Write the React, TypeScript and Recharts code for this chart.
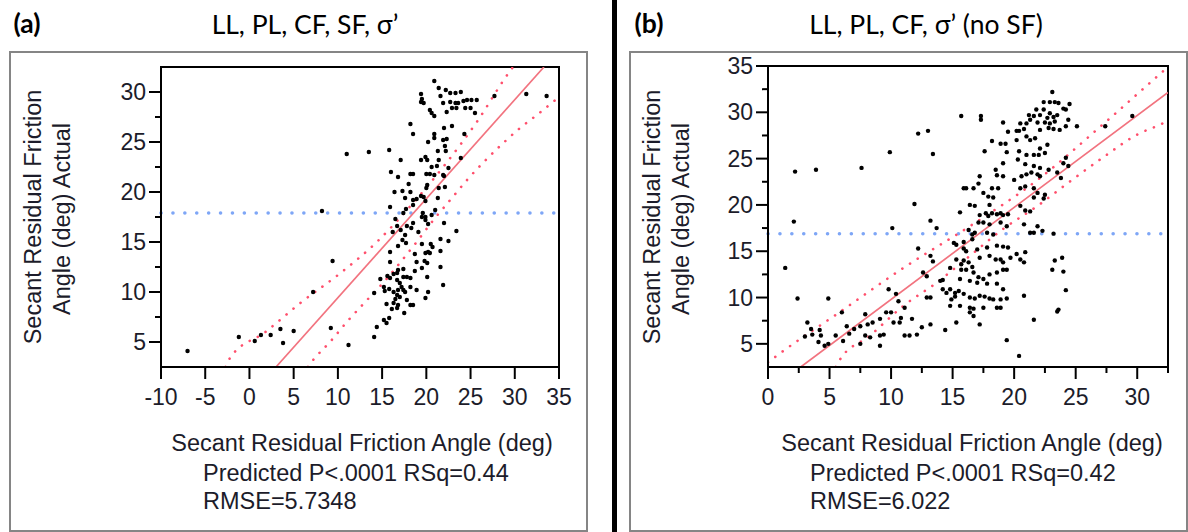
import { ComposedChart, XAxis, YAxis, Scatter, Line, ReferenceLine, ReferenceArea } from 'recharts';

type Pt = [number, number];

// panel (a): LL, PL, CF, SF, σ'
const xTicksA = [-10, -5, 0, 5, 10, 15, 20, 25, 30, 35];
const yTicksA = [5, 7.5, 10, 12.5, 15, 17.5, 20, 22.5, 25, 27.5, 30];
const meanA = 17.9;
const fitA: Pt[] = [[3.0, 2.5], [33.3, 32.5]];
const upperA: Pt[] = [[-2.7, 2.5], [-2.2, 3.4], [1.8, 6.0], [5.9, 9.0], [10.3, 11.9], [14.4, 15.0], [18.5, 18.9], [21.9, 22.5], [25.7, 27.0], [29.3, 31.9], [29.8, 32.5]];
const lowerA: Pt[] = [[6.6, 2.5], [7.2, 3.2], [9.1, 5.0], [11.2, 7.2], [13.3, 9.2], [15.2, 11.0], [17.0, 12.9], [18.9, 15.0], [20.8, 17.2], [22.7, 19.2], [24.6, 21.2], [26.5, 23.0], [28.7, 24.9], [30.6, 26.4], [32.5, 27.7], [35, 29.5]];
const pointsA: Pt[] = [
  [20.9, 31.1], [21.4, 30.4], [22.2, 30.2], [22.7, 29.9], [23.3, 29.9], [23.9, 30.0], [21.6, 29.6], [19.4, 29.8], [19.5, 29.3], [19.4, 29.0],
  [19.7, 28.9], [21.9, 28.9], [22.7, 29.0], [23.3, 28.9], [23.6, 28.9], [24.2, 29.1], [24.6, 29.2], [25.1, 29.2], [25.7, 29.2], [22.9, 28.4],
  [23.4, 28.4], [24.4, 28.4], [25.0, 28.4], [25.5, 27.9], [22.3, 28.0], [20.4, 28.2], [20.6, 27.9], [20.9, 27.6], [27.7, 29.6], [31.3, 29.8], [33.6, 29.6],
  [18.2, 26.8], [18.5, 25.8], [22.9, 26.6], [22.0, 26.4], [20.9, 25.8], [20.9, 25.4], [20.2, 25.0], [21.9, 25.2], [22.3, 25.3], [22.1, 24.6],
  [21.3, 24.1], [22.2, 24.1], [24.3, 25.8], [23.9, 23.4], [22.5, 22.4], [22.0, 21.6], [22.1, 20.5],
  [11.0, 23.8], [13.5, 24.0], [15.8, 24.2], [17.1, 23.2], [19.4, 23.2], [19.9, 23.5], [20.1, 23.2], [21.4, 23.2], [20.6, 22.5], [21.2, 22.6],
  [16.0, 22.0], [16.8, 21.5], [18.2, 21.8], [18.5, 21.8], [20.0, 21.8], [20.4, 21.8], [20.9, 21.7], [21.9, 21.7],
  [20.1, 20.7], [18.0, 20.8], [17.3, 20.1], [18.2, 20.0], [16.4, 20.0], [20.0, 20.4], [21.4, 20.4], [19.4, 19.6], [19.7, 19.5], [17.6, 19.4],
  [18.5, 19.2], [18.9, 19.3], [18.5, 18.7], [15.9, 18.5], [17.7, 18.3], [19.9, 19.1], [21.3, 19.4], [21.0, 18.2], [20.6, 17.7], [19.6, 17.9],
  [19.5, 17.5], [19.9, 17.5], [19.9, 17.2], [20.2, 16.8], [8.2, 18.1], [16.5, 17.3], [17.4, 17.9], [16.7, 16.6], [17.8, 16.6], [18.5, 16.9],
  [18.3, 16.4], [17.1, 16.2], [16.2, 16.0], [17.6, 15.7], [19.1, 16.0], [22.0, 16.9], [23.4, 16.1],
  [17.3, 15.2], [17.7, 14.9], [16.8, 14.6], [15.9, 14.0], [19.5, 14.8], [20.5, 14.8], [20.7, 14.5], [20.2, 14.0], [20.4, 13.9], [19.9, 13.9],
  [21.6, 15.3], [22.5, 15.1], [21.6, 14.1], [18.7, 13.8], [18.9, 13.0], [19.8, 13.1], [20.1, 12.9], [15.9, 13.0], [17.4, 12.3], [16.8, 12.2],
  [16.7, 11.9], [18.7, 12.1], [19.5, 12.4], [21.6, 12.5], [16.3, 11.8], [15.6, 11.6], [15.9, 11.4], [14.8, 11.3], [15.2, 10.5], [15.3, 10.1],
  [15.8, 10.3], [16.7, 11.2], [17.0, 10.9], [17.8, 11.5], [17.4, 11.5], [18.2, 11.4], [17.2, 10.5], [17.4, 10.2], [17.6, 10.0], [16.8, 10.2],
  [16.3, 10.0], [16.7, 9.7], [17.0, 9.5], [16.5, 9.3], [16.3, 8.9], [16.8, 8.7], [17.8, 9.2], [18.2, 10.5], [18.9, 10.2], [20.1, 11.5],
  [20.2, 10.0], [19.9, 9.4], [21.9, 10.7], [14.1, 9.9], [15.5, 8.8], [16.7, 8.4], [16.1, 8.3], [18.2, 8.7], [18.5, 8.7], [17.5, 7.9],
  [15.8, 7.4], [15.2, 7.2], [15.5, 6.9], [14.4, 6.5], [14.1, 5.5], [9.2, 6.4], [7.2, 10.0], [9.4, 13.1], [11.2, 4.7], [5.0, 6.1],
  [3.5, 6.3], [2.4, 5.7], [1.3, 5.7], [0.6, 5.1], [-1.2, 5.5], [3.8, 4.9], [-7.0, 4.1],
];

// panel (b): LL, PL, CF, σ' (no SF)
const xTicksB = [0, 2.5, 5, 7.5, 10, 12.5, 15, 17.5, 20, 22.5, 25, 27.5, 30, 32.5];
const yTicksB = [5, 7.5, 10, 12.5, 15, 17.5, 20, 22.5, 25, 27.5, 30, 32.5, 35];
const meanB = 16.9;
const fitB: Pt[] = [[2.66, 2.5], [32.5, 32.15]];
const upperB: Pt[] = [[0, 3.0], [0.9, 3.9], [5.8, 8.4], [11.0, 13.2], [16.4, 17.7], [21.9, 22.7], [27.3, 28.8], [31.9, 34.2], [32.5, 34.9]];
const lowerB: Pt[] = [[5.5, 2.5], [5.8, 3.2], [8.3, 5.9], [11.0, 9.1], [13.7, 11.6], [16.4, 14.5], [19.1, 17.4], [21.9, 19.9], [24.6, 22.6], [27.3, 25.2], [30.0, 27.6], [31.9, 28.7], [32.5, 29.1]];
const pointsB: Pt[] = [
  [23.1, 32.2], [22.4, 31.1], [22.9, 31.1], [23.3, 31.1], [23.6, 31.0], [24.0, 30.4], [24.5, 30.9], [24.2, 30.3], [21.8, 30.3], [22.4, 30.3],
  [22.9, 29.9], [21.2, 29.7], [21.6, 29.6], [22.1, 29.7], [22.7, 29.4], [23.2, 29.5], [23.5, 29.7], [21.3, 29.2], [21.0, 28.8], [21.9, 28.9],
  [22.5, 28.9], [22.9, 28.8], [23.3, 29.0], [24.4, 29.2], [24.2, 28.5], [25.1, 28.5], [20.5, 28.8], [20.8, 28.2], [20.2, 28.0], [19.5, 27.9],
  [19.1, 28.9], [20.4, 28.0], [22.1, 28.1], [22.8, 28.3], [23.2, 28.2], [23.7, 28.1], [15.7, 29.6], [17.3, 29.6], [17.3, 29.2], [13.0, 28.0],
  [12.2, 27.7], [9.9, 25.7], [13.4, 25.5], [7.6, 24.0], [3.9, 23.8], [2.2, 23.6], [27.4, 28.5], [29.6, 29.6],
  [21.0, 27.4], [21.3, 27.0], [21.7, 27.2], [20.2, 27.0], [18.2, 26.9], [18.9, 26.6], [19.3, 26.6], [22.7, 26.5], [22.1, 26.1], [17.6, 25.8],
  [19.4, 25.7], [20.4, 25.8], [21.0, 25.4], [21.6, 25.4], [22.0, 25.4], [22.5, 25.6], [20.3, 24.9], [20.9, 24.4], [21.6, 24.2], [22.1, 24.0],
  [22.8, 23.8], [19.1, 24.5], [24.2, 25.1], [24.0, 24.5], [24.4, 24.2], [18.5, 23.8], [18.6, 23.2], [19.1, 23.1], [20.0, 22.7], [20.6, 23.1],
  [21.0, 23.3], [21.4, 23.5], [21.9, 23.3], [22.1, 23.1], [23.5, 23.5], [23.8, 22.9], [17.2, 23.1], [15.9, 21.8], [16.1, 21.8], [16.7, 21.8],
  [17.1, 22.3], [18.2, 21.8], [18.7, 21.8], [17.5, 21.3], [17.9, 20.9], [18.3, 20.8], [20.5, 21.8], [20.9, 22.0], [21.6, 21.8], [21.9, 21.3],
  [22.5, 21.1], [22.4, 20.7], [21.6, 20.8], [20.5, 19.9], [20.9, 19.4], [21.3, 19.3], [16.4, 20.0], [16.8, 19.9], [18.0, 20.0], [17.7, 19.1],
  [17.9, 18.8], [18.2, 19.1], [18.6, 19.0], [18.9, 19.1], [19.1, 18.9], [19.5, 19.0], [17.2, 18.9], [15.6, 19.2], [17.1, 18.1], [17.5, 18.1],
  [18.0, 17.9], [18.9, 18.1], [19.4, 17.7], [20.8, 17.9], [21.3, 17.0], [21.6, 17.0], [21.9, 17.7], [23.2, 16.9], [22.3, 17.2],
  [16.3, 17.3], [16.6, 16.8], [16.8, 17.0], [17.8, 17.0], [18.3, 16.8], [13.7, 17.5], [13.2, 18.3], [11.9, 20.1], [10.1, 17.5], [2.1, 18.2],
  [15.1, 15.9], [15.3, 15.7], [15.9, 16.0], [16.6, 16.3], [15.9, 15.3], [16.1, 15.0], [17.0, 15.2], [17.8, 15.4], [18.6, 15.6], [19.1, 15.5],
  [19.5, 15.4], [20.2, 14.7], [20.9, 14.9], [12.2, 15.3], [13.2, 14.5], [13.4, 13.9], [12.6, 12.7], [12.9, 12.3], [14.8, 13.2], [15.3, 14.1],
  [15.9, 14.0], [15.7, 13.6], [16.3, 13.8], [16.6, 13.3], [17.2, 14.3], [18.0, 14.5], [18.5, 14.1], [18.9, 14.1], [19.1, 13.8], [19.7, 14.3],
  [20.5, 14.1], [20.8, 13.8], [23.3, 14.0], [23.9, 14.3], [23.1, 13.0], [24.0, 12.8], [24.2, 10.8], [23.5, 8.5], [23.6, 8.7], [21.6, 7.6],
  [19.4, 5.4], [20.4, 3.7],
  [14.0, 11.8], [14.2, 11.9], [15.7, 13.0], [16.1, 13.0], [16.7, 12.7], [17.1, 12.2], [17.5, 12.0], [18.0, 12.5], [18.6, 12.7], [19.1, 13.0],
  [19.4, 13.0], [15.6, 12.0], [16.4, 11.8], [17.0, 11.6], [17.8, 11.5], [18.6, 11.5], [19.1, 10.9], [14.2, 10.9], [14.8, 10.9], [14.5, 10.5],
  [15.2, 10.5], [15.5, 10.7], [15.2, 10.1], [14.9, 9.8], [15.9, 10.4], [16.4, 10.0], [16.8, 9.9], [17.2, 10.2], [17.6, 10.1], [18.0, 9.9],
  [18.3, 9.8], [18.9, 9.8], [19.4, 9.9], [20.8, 10.2], [14.8, 9.1], [15.6, 9.1], [16.4, 8.9], [16.7, 8.8], [17.5, 8.9], [18.6, 8.9],
  [18.9, 8.9], [16.4, 8.4], [16.7, 8.0], [17.2, 7.1], [15.3, 7.3], [12.9, 10.0], [13.2, 10.0], [10.4, 10.4], [9.8, 10.9], [10.6, 9.6],
  [11.1, 8.9], [10.0, 8.4], [9.6, 8.4], [10.8, 7.8], [11.7, 7.7], [10.2, 7.3], [10.7, 7.3], [11.5, 5.9], [11.1, 5.9], [12.1, 6.0],
  [12.5, 6.8], [13.2, 7.1], [14.4, 6.5], [9.1, 7.7], [8.5, 7.3], [8.1, 7.1], [8.3, 5.7], [7.9, 5.9], [7.5, 6.9], [9.1, 5.9],
  [9.4, 6.0], [9.1, 4.8], [7.0, 6.6], [6.6, 6.1], [6.4, 6.9], [6.0, 8.4], [6.1, 5.3], [7.5, 5.0], [5.5, 5.9], [4.9, 5.0],
  [4.6, 4.8], [4.3, 5.9], [4.1, 5.2], [3.6, 6.0], [4.2, 6.5], [3.5, 6.6], [3.2, 7.3], [3.0, 5.8], [2.4, 9.9], [4.9, 9.9],
  [1.4, 13.2], [7.9, 8.2],
];

const rows = (pts: Pt[]) => pts.map(([x, y]) => ({ x, y }));

const SANS = '"Liberation Sans", Arial, sans-serif';
const TITLE = 'Lato, "Open Sans", sans-serif';
const INK = '#1c1c2a';

function XTick(props: any) {
  const { x, y, payload } = props;
  const v = payload.value as number;
  const major = v % 5 === 0;
  return (
    <g>
      <line x1={x} x2={x} y1={y} y2={y + (major ? 12 : 6)} stroke="#000" strokeWidth={2} />
      {major && (
        <text x={x} y={y + 38} textAnchor="middle" fontFamily={SANS} fontSize={23} fill={INK}>
          {v}
        </text>
      )}
    </g>
  );
}

function YTick(props: any) {
  const { x, y, payload } = props;
  const v = payload.value as number;
  const major = v % 5 === 0;
  return (
    <g>
      <line x1={x} x2={x - (major ? 12 : 6)} y1={y} y2={y} stroke="#000" strokeWidth={2} />
      {major && (
        <text x={x - 15} y={y + 8} textAnchor="end" fontFamily={SANS} fontSize={23} fill={INK}>
          {v}
        </text>
      )}
    </g>
  );
}

const Dot = (p: any) => <circle cx={p.cx} cy={p.cy} r={2.2} fill="#000" />;

interface PlotProps {
  left: number;
  width: number;
  margin: { top: number; right: number; bottom: number; left: number };
  xDomain: [number, number];
  yDomain: [number, number];
  xTicks: number[];
  yTicks: number[];
  mean: number;
  fit: Pt[];
  upper: Pt[];
  lower: Pt[];
  points: Pt[];
}

function Plot(p: PlotProps) {
  return (
    <div style={{ position: 'absolute', left: p.left, top: 0 }}>
      <ComposedChart width={p.width} height={532} margin={p.margin}>
        <XAxis
          type="number"
          dataKey="x"
          domain={p.xDomain}
          ticks={p.xTicks}
          interval={0}
          allowDataOverflow
          height={40}
          tickSize={0}
          tickMargin={0}
          tickLine={false}
          axisLine={{ stroke: '#000', strokeWidth: 2 }}
          tick={(t: any) => <XTick {...t} />}
        />
        <YAxis
          type="number"
          dataKey="y"
          domain={p.yDomain}
          ticks={p.yTicks}
          interval={0}
          allowDataOverflow
          width={60}
          tickSize={0}
          tickMargin={0}
          tickLine={false}
          axisLine={{ stroke: '#000', strokeWidth: 2 }}
          tick={(t: any) => <YTick {...t} />}
        />
        <ReferenceLine
          y={p.mean}
          stroke="#7ea6f6"
          strokeWidth={3.5}
          strokeDasharray="0.1 11.8"
          strokeLinecap="round"
        />
        <Line data={rows(p.fit)} dataKey="y" type="linear" stroke="#f2737f" strokeWidth={1.7} dot={false} isAnimationActive={false} />
        <Line data={rows(p.upper)} dataKey="y" type="monotone" stroke="#ff4f6c" strokeWidth={2.6} strokeDasharray="0.1 9" strokeLinecap="round" dot={false} isAnimationActive={false} />
        <Line data={rows(p.lower)} dataKey="y" type="monotone" stroke="#ff4f6c" strokeWidth={2.6} strokeDasharray="0.1 9" strokeLinecap="round" dot={false} isAnimationActive={false} />
        <Scatter data={rows(p.points)} fill="#000" shape={Dot} isAnimationActive={false} />
        <ReferenceArea
          x1={p.xDomain[0]}
          x2={p.xDomain[1]}
          y1={p.yDomain[0]}
          y2={p.yDomain[1]}
          fill="none"
          stroke="#000"
          strokeWidth={2}
          ifOverflow="visible"
        />
      </ComposedChart>
    </div>
  );
}

function Txt({ x, y, children, style, anchor = 'middle' }: any) {
  const tx = anchor === 'middle' ? '-50%' : '0';
  return (
    <div
      style={{
        position: 'absolute',
        left: x,
        top: y,
        transform: `translate(${tx}, -50%)`,
        whiteSpace: 'nowrap',
        lineHeight: 1,
        fontFamily: SANS,
        fontSize: 23.5,
        color: INK,
        ...style,
      }}
    >
      {children}
    </div>
  );
}

function VTxt({ x, y, children }: any) {
  return (
    <div
      style={{
        position: 'absolute',
        left: x,
        top: y,
        transform: 'translate(-50%, -50%) rotate(-90deg)',
        whiteSpace: 'nowrap',
        lineHeight: 1,
        fontFamily: SANS,
        fontSize: 23.5,
        color: INK,
      }}
    >
      {children}
    </div>
  );
}

const box = (left: number, width: number) => ({
  position: 'absolute' as const,
  left,
  top: 51,
  width,
  height: 477,
  border: '2px solid #858585',
});

const titleStyle = { fontFamily: TITLE, fontSize: 26.5, color: '#000' };

export default function App() {
  return (
    <div style={{ position: 'absolute', left: 0, top: 0, width: 1188, height: 532, background: '#fff', overflow: 'hidden' }}>
      <div style={box(9, 575)} />
      <div style={box(629, 555)} />
      <div style={{ position: 'absolute', left: 612, top: 0, width: 5, height: 532, background: '#000' }} />

      <Txt x={27} y={23} style={{ ...titleStyle, fontWeight: 700 }}>(a)</Txt>
      <Txt x={305} y={24} style={titleStyle}>LL, PL, CF, SF, σ’</Txt>
      <Txt x={649} y={23} style={{ ...titleStyle, fontWeight: 700 }}>(b)</Txt>
      <Txt x={926} y={24} style={titleStyle}>LL, PL, CF, σ’ (no SF)</Txt>

      <Plot
        left={0}
        width={600}
        margin={{ top: 67, right: 41, bottom: 125, left: 101 }}
        xDomain={[-10, 35]}
        yDomain={[2.5, 32.5]}
        xTicks={xTicksA}
        yTicks={yTicksA}
        mean={meanA}
        fit={fitA}
        upper={upperA}
        lower={lowerA}
        points={pointsA}
      />
      <Plot
        left={620}
        width={568}
        margin={{ top: 66, right: 20, bottom: 125, left: 88 }}
        xDomain={[0, 32.5]}
        yDomain={[2.5, 35]}
        xTicks={xTicksB}
        yTicks={yTicksB}
        mean={meanB}
        fit={fitB}
        upper={upperB}
        lower={lowerB}
        points={pointsB}
      />

      <VTxt x={34} y={217}>Secant Residual Friction</VTxt>
      <VTxt x={63} y={219}>Angle (deg) Actual</VTxt>
      <Txt x={362} y={444}>Secant Residual Friction Angle (deg)</Txt>
      <Txt x={203} y={474} anchor="start">Predicted P&lt;.0001 RSq=0.44</Txt>
      <Txt x={203} y={502} anchor="start">RMSE=5.7348</Txt>

      <VTxt x={653} y={217}>Secant Residual Friction</VTxt>
      <VTxt x={682} y={219}>Angle (deg) Actual</VTxt>
      <Txt x={972} y={444}>Secant Residual Friction Angle (deg)</Txt>
      <Txt x={810} y={474} anchor="start">Predicted P&lt;.0001 RSq=0.42</Txt>
      <Txt x={810} y={502} anchor="start">RMSE=6.022</Txt>
    </div>
  );
}
